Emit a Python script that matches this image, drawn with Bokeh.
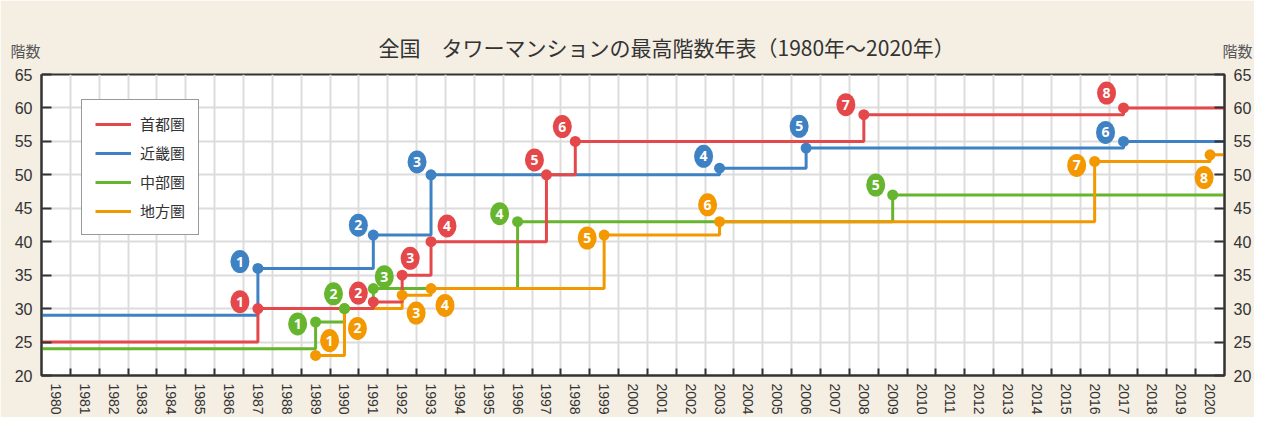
from bokeh.plotting import figure
from bokeh.models import (FixedTicker, LinearAxis, Range1d, Legend, LegendItem, Title)
from bokeh.embed import file_html
from bokeh.resources import INLINE
from bokeh.core.properties import value

# ---------------- data ----------------
years = list(range(1980, 2021))
y_ticks = [20, 25, 30, 35, 40, 45, 50, 55, 60, 65]
regions = ["首都圏", "近畿圏", "中部圏", "地方圏"]

shutoken_start = 25
shutoken_years = [1987, 1991, 1992, 1993, 1997, 1998, 2008, 2017]
shutoken_floors = [30, 31, 35, 40, 50, 55, 59, 60]

kinki_start = 29
kinki_years = [1987, 1991, 1993, 2003, 2006, 2017]
kinki_floors = [36, 41, 50, 51, 54, 55]

chubu_start = 24
chubu_years = [1989, 1990, 1991, 1996, 2009]
chubu_floors = [28, 30, 33, 43, 47]

chiho_start = None
chiho_years = [1989, 1990, 1992, 1993, 1999, 2003, 2016, 2020]
chiho_floors = [23, 30, 32, 33, 41, 43, 52, 53]

title_text = "全国　タワーマンションの最高階数年表（1980年～2020年）"
axis_text = "階数"

# ---------------- style ----------------
colors = ["#E5484A", "#3F82C4", "#66B52E", "#F39800"]
# badge offsets from each point, in screen pixels (dx right, dy down)
badge_off = [
    [(-18, -7), (-15, -9), (8, -17), (16, -16), (-12, -15), (-13, -15), (-18, -10), (-17, -15)],
    [(-18, -7), (-15, -10), (-14, -13), (-16, -12), (-7, -22), (-18, -9)],
    [(-18, 2), (-11, -15), (11, -12), (-18, -8), (-17, -10)],
    [(14, -15), (13, 20), (14, 18), (14, 17), (-17, 3), (-12, -17), (-18, 4), (-6, 23)],
]
BG = "#F4EEE3"
INK = "#333333"
GRID = "#DCDCDC"

X0, X1 = years[0] - 0.5, years[-1] + 0.5
Y0, Y1 = y_ticks[0], y_ticks[-1]
W, H = 1254, 417
ML, MT = 41, 74
MR, MB = 28, 39
FW, FH = W - ML - MR, H - MT - MB
xpx = FW / (X1 - X0)
ypx = FH / (Y1 - Y0)

p = figure(width=W, height=H, x_range=Range1d(X0, X1), y_range=Range1d(Y0, Y1),
           output_backend="svg", toolbar_location=None, title=None,
           min_border_left=ML, min_border_right=MR, min_border_top=MT, min_border_bottom=MB,
           background_fill_color="white", border_fill_color=BG,
           outline_line_color=INK, outline_line_width=2)

bounds = [y + 0.5 for y in years[:-1]]

# bottom axis: labels at year centres, ticks at band boundaries
xa = p.xaxis[0]
xa.ticker = FixedTicker(ticks=years, minor_ticks=bounds)
xa.major_tick_in = 0
xa.major_tick_out = 0
xa.minor_tick_in = 7
xa.minor_tick_out = 0
xa.minor_tick_line_color = INK
xa.minor_tick_line_width = 2
xa.major_label_orientation = "vertical"
xa.major_label_text_font_size = "14px"
xa.major_label_text_font = "Liberation Sans"
xa.major_label_text_color = INK
xa.major_label_standoff = 8
xa.axis_line_color = INK
xa.axis_line_width = 2

ya = p.yaxis[0]
ya.ticker = FixedTicker(ticks=y_ticks)
ya.major_tick_in = 10
ya.major_tick_out = 0
ya.minor_tick_line_color = None
ya.major_label_text_font_size = "16px"
ya.major_label_text_font = "Liberation Sans"
ya.major_label_text_color = INK
ya.major_label_standoff = 9
ya.axis_line_color = INK
ya.axis_line_width = 2
ya.major_tick_line_color = INK
ya.major_tick_line_width = 2

ra = LinearAxis(ticker=FixedTicker(ticks=y_ticks), major_tick_in=10, major_tick_out=0,
                minor_tick_line_color=None, major_label_text_font_size="16px",
                major_label_text_font="Liberation Sans", major_label_text_color=INK,
                major_label_standoff=9, axis_line_color=INK, axis_line_width=2,
                major_tick_line_color=INK, major_tick_line_width=2)
p.add_layout(ra, "right")

p.xgrid.ticker = FixedTicker(ticks=bounds)
p.ygrid.ticker = FixedTicker(ticks=y_ticks)
p.xgrid.grid_line_color = GRID
p.ygrid.grid_line_color = GRID
p.xgrid.grid_line_width = 2
p.ygrid.grid_line_width = 2

series = [
    (shutoken_start, shutoken_years, shutoken_floors),
    (kinki_start, kinki_years, kinki_floors),
    (chubu_start, chubu_years, chubu_floors),
    (chiho_start, chiho_years, chiho_floors),
]

line_r = {}
for i in [1, 2, 3, 0]:
    start, yrs, fl = series[i]
    if start is not None:
        xs = [X0] + yrs + [X1]
        ys = [start] + fl + [fl[-1]]
    else:
        xs = yrs + [X1]
        ys = fl + [fl[-1]]
    line_r[i] = p.step(xs, ys, mode="after", line_width=3, line_color=colors[i])

for i in [3, 1, 2, 0]:
    start, yrs, fl = series[i]
    p.scatter(yrs, fl, size=11, fill_color=colors[i], line_color=None)

for i in range(4):
    start, yrs, fl = series[i]
    bx = [x + o[0] / xpx for x, o in zip(yrs, badge_off[i])]
    by = [y - o[1] / ypx for y, o in zip(fl, badge_off[i])]
    p.ellipse(x=bx, y=by, width=19, height=23, width_units="screen", height_units="screen",
              fill_color=colors[i], line_color=None)
    p.text(x=bx, y=by, text=[str(k + 1) for k in range(len(yrs))], text_color="white",
           text_font=value("Open Sans"), text_font_style="bold", text_font_size="14px",
           text_align="center", text_baseline="middle")

legend = Legend(items=[LegendItem(label=regions[i], renderers=[line_r[i]]) for i in range(4)],
                location=(40, 140), margin=0, padding=13, spacing=8,
                glyph_width=36, glyph_height=20, label_height=20, label_standoff=9,
                label_text_font="Noto Sans CJK JP", label_text_font_size="15px",
                label_text_color=INK, border_line_color=INK, border_line_width=1,
                background_fill_color="white", background_fill_alpha=1.0)
p.add_layout(legend, "center")

# ---- header area above the frame (stacked from the frame upward) ----
def spacer(px):
    # an empty axis whose (invisible, beige) tick sets the height of a header row
    return LinearAxis(ticker=FixedTicker(ticks=[X0], minor_ticks=[]), major_tick_out=px,
                      major_tick_in=0, minor_tick_out=0, minor_tick_in=0,
                      major_label_standoff=0, major_label_text_color=None,
                      axis_line_color=None, major_tick_line_color=BG,
                      minor_tick_line_color=None)

def head(text, align, offset, size, standoff, color):
    return Title(text=text, align=align, offset=offset, standoff=standoff,
                 vertical_align="middle", text_font="Noto Sans CJK JP",
                 text_font_size=size, text_font_style="normal", text_color=color)

p.add_layout(spacer(24), "above")
p.add_layout(head(axis_text, "left", 10 - ML, "15px", -23, "#555555"), "above")
p.add_layout(head(axis_text, "right", -MR, "15px", -23, "#555555"), "above")
p.add_layout(spacer(3), "above")
p.add_layout(head(title_text, "left", 378 - ML, "21px", -31, INK), "above")
p.add_layout(spacer(44), "above")

open("out.html", "w").write(file_html(p, INLINE))
